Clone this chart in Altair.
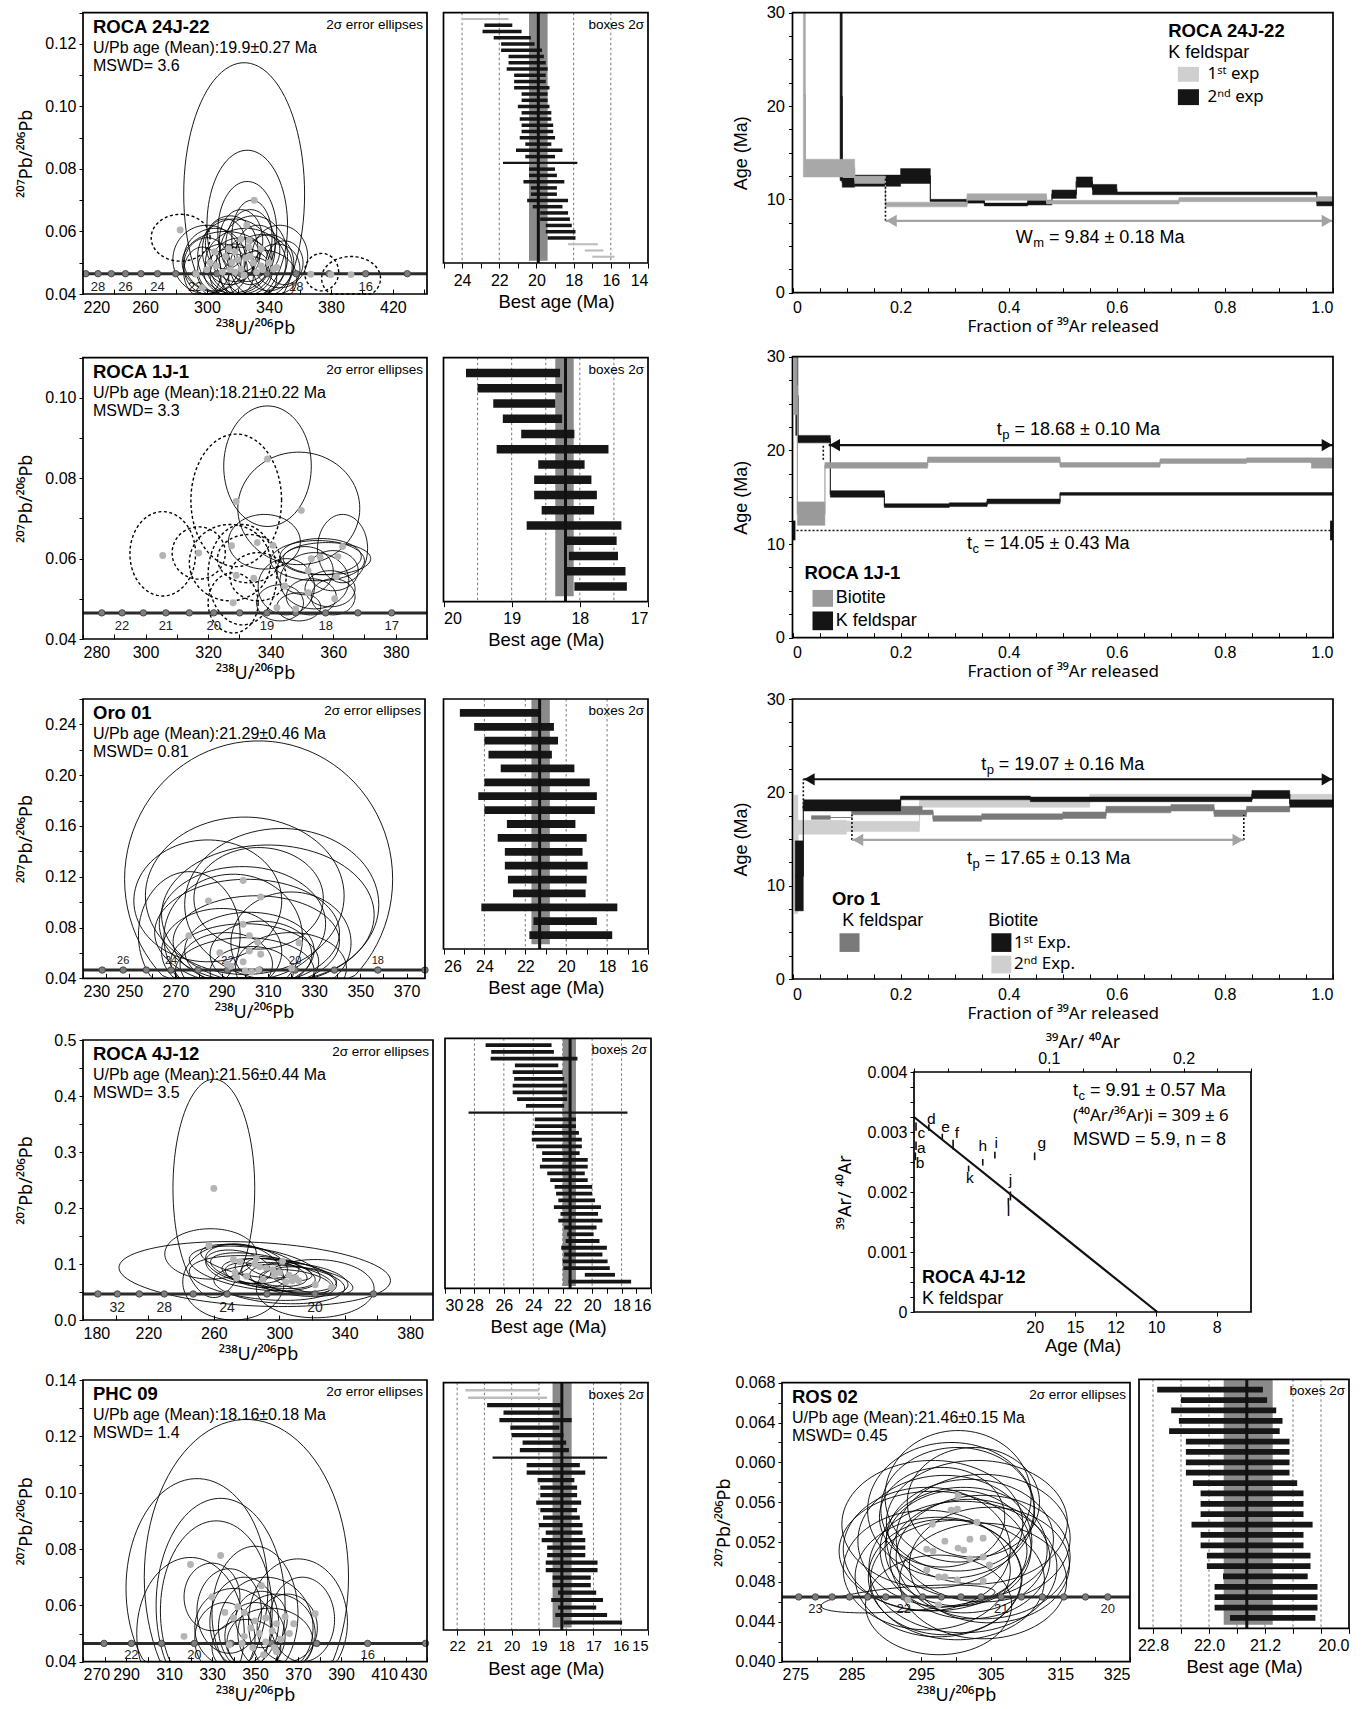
import json
import altair as alt
import pandas as pd

W, H = 1365, 1709
FONT = "Liberation Sans, Arial, Helvetica, sans-serif"
SUPFONT = "Noto Sans, DejaVu Sans, sans-serif"
ANG = list(range(0, 361, 4))

# ============================ DATA ============================
CONC_Y = 0.0465  # 207Pb/206Pb of the concordia at these young ages

# concordia age marks: age (Ma) -> 238U/206Pb
AGES_1MA = [34, 33, 32, 31, 30, 29, 28, 27, 26, 25, 24, 23, 22, 21, 20, 19, 18, 17, 16, 15]
U238_1MA = [189.1, 194.9, 201.0, 207.5, 214.4, 221.8, 229.7, 238.3, 247.4, 257.4, 268.1,
            279.8, 292.5, 306.5, 321.8, 338.8, 357.6, 378.7, 402.4, 429.3]
AGES_HALF = [22.5, 22, 21.5, 21, 20.5, 20, 19.5, 19, 18.5, 18, 17.5, 17]
U238_HALF = [286.0, 292.5, 299.3, 306.5, 314.0, 321.8, 330.1, 338.8, 348.0, 357.6, 367.9, 378.7]
AGES_ROS = [23.2, 23.0, 22.8, 22.6, 22.4, 22.2, 22.0, 21.8, 21.6, 21.4, 21.2, 21.0, 20.8, 20.6, 20.4, 20.2, 20.0]
U238_ROS = [277.4, 279.8, 282.2, 284.7, 287.3, 289.9, 292.5, 295.2, 297.9, 300.7, 303.6, 306.5,
            309.4, 312.4, 315.5, 318.6, 321.8]

# ---------- Panel 1: ROCA 24J-22 ----------
P1_TEXT = ["ROCA 24J-22", "U/Pb age (Mean):19.9±0.27 Ma", "MSWD= 3.6"]
P1_CONC_AGE = [29, 28, 27, 26, 25, 24, 23, 22, 21, 20, 19, 18, 17, 16, 15]
P1_CONC_LAB = [28, 26, 24, 22, 18, 16]
P1_ELL = [(324, 0.072, 39, 0.042), (326, 0.062, 26, 0.024), (326, 0.060, 19, 0.016), (329, 0.058, 13, 0.012),
          (312, 0.050, 28, 0.010), (318, 0.052, 24, 0.012), (322, 0.049, 20, 0.009), (315, 0.054, 18, 0.011),
          (325, 0.050, 26, 0.011), (320, 0.047, 22, 0.008), (330, 0.052, 22, 0.013), (310, 0.048, 16, 0.008),
          (335, 0.049, 20, 0.010), (328, 0.055, 16, 0.012), (316, 0.046, 14, 0.007), (340, 0.050, 16, 0.009),
          (305, 0.051, 20, 0.010), (322, 0.057, 14, 0.010), (327, 0.045, 18, 0.007), (333, 0.054, 14, 0.008),
          (318, 0.050, 12, 0.006), (345, 0.048, 15, 0.008), (300, 0.049, 15, 0.009), (312, 0.056, 13, 0.008),
          (336, 0.045, 22, 0.009), (324, 0.052, 10, 0.006), (297, 0.047, 12, 0.008), (350, 0.050, 12, 0.007),
          (300, 0.051, 22, 0.011), (347, 0.052, 18, 0.010)]
P1_ELL_DASH = [(283, 0.058, 19, 0.0075), (374, 0.047, 11, 0.006), (393, 0.045, 19, 0.007)]
P1_DOTS = [(282.7, 0.0605), (330.5, 0.070), (325.7, 0.062), (327.3, 0.0572), (322, 0.0575), (318, 0.0535),
           (312, 0.052), (316, 0.050), (320, 0.051), (325, 0.0515), (328, 0.052), (330, 0.050), (322, 0.048),
           (318, 0.047), (306, 0.049), (302, 0.050), (310, 0.047), (335, 0.049), (340, 0.050), (343, 0.048),
           (345, 0.0485), (332, 0.047), (314, 0.0545), (327, 0.055), (293, 0.0465), (297, 0.042),
           (367, 0.0463), (380, 0.0462), (393, 0.0462), (315, 0.0478), (335, 0.0545), (305, 0.0535),
           (324, 0.046), (336, 0.0478), (300, 0.0478)]
B1_OLD = [24.0, 22.8, 22.9, 22.3, 21.9, 21.9, 21.5, 21.5, 21.6, 21.2, 21.2, 21.2, 20.8, 20.8, 21.0, 20.8, 20.9,
          20.8, 20.8, 20.9, 20.6, 21.1, 20.6, 21.8, 20.4, 20.4, 20.7, 20.3, 20.3, 20.5, 20.2, 19.8, 19.8, 19.5,
          19.5, 19.4, 18.3, 17.4, 17.0]
B1_YOUNG = [21.5, 21.3, 20.8, 20.3, 20.1, 19.7, 19.6, 19.5, 19.4, 19.5, 19.5, 19.3, 19.4, 19.4, 19.3, 19.2, 19.2,
            19.1, 19.1, 19.0, 19.2, 18.6, 19.0, 17.8, 19.0, 18.9, 18.5, 18.9, 18.9, 18.3, 18.6, 18.3, 18.2, 18.1,
            17.9, 17.9, 16.7, 16.4, 15.8]
B1_KIND = ["r"] + ["a"] * 22 + ["w"] + ["a"] * 12 + ["r", "r", "r"]
B1_BAND, B1_MEAN = (20.4, 19.4), 19.9

# ---------- Panel 2: ROCA 1J-1 ----------
P2_TEXT = ["ROCA 1J-1", "U/Pb age (Mean):18.21±0.22 Ma", "MSWD= 3.3"]
P2_CONC_LAB = [22, 21, 20, 19, 18, 17]
P2_ELL = [(339, 0.083, 14, 0.015), (349, 0.0725, 19.5, 0.014), (338, 0.0642, 11.5, 0.0068), (363, 0.0625, 8, 0.0085),
          (356, 0.0605, 13, 0.0045), (358, 0.0600, 14, 0.0040), (355, 0.0595, 15, 0.0050), (351, 0.0570, 9, 0.0060),
          (360, 0.0570, 8, 0.0050), (354, 0.0545, 11, 0.0070), (345, 0.0530, 9, 0.0070), (359, 0.0525, 8, 0.0045),
          (353, 0.0505, 8, 0.0045), (343, 0.0490, 7.5, 0.0045), (349, 0.0480, 7, 0.0035), (360, 0.0505, 7, 0.0045)]
P2_ELL_DASH = [(305.5, 0.0612, 10.5, 0.0105), (329, 0.0745, 14.5, 0.0165), (317, 0.0614, 8.5, 0.0065),
               (327, 0.0590, 13, 0.0095), (331, 0.0560, 11, 0.0125), (333, 0.0600, 10, 0.0060),
               (336, 0.0555, 9, 0.0060), (328, 0.0490, 8, 0.0075)]
P2_DOTS = [(305.5, 0.0608), (317, 0.0614), (327.5, 0.0632), (335.7, 0.064), (340.8, 0.0633), (329, 0.0742),
           (339, 0.0848), (349.8, 0.072), (363, 0.063), (361.5, 0.0605), (355.8, 0.0604), (353, 0.060),
           (329, 0.0558), (334.6, 0.0551), (352, 0.057), (361, 0.0555), (344.5, 0.0532), (352, 0.0515),
           (360.5, 0.050), (328, 0.049), (342, 0.0478), (348, 0.0475)]
B2_OLD = [19.67, 19.5, 19.27, 19.13, 18.86, 19.22, 18.61, 18.67, 18.67, 18.56, 18.78, 18.19, 18.16, 18.19, 18.08]
B2_YOUNG = [18.29, 18.26, 18.36, 18.26, 18.08, 17.58, 17.93, 17.83, 17.75, 17.79, 17.39, 17.46, 17.44, 17.33, 17.31]
B2_KIND = ["a"] * 15
B2_BAND, B2_MEAN = (18.36, 18.09), 18.21

# ---------- Panel 3: Oro 01 ----------
P3_TEXT = ["Oro 01", "U/Pb age (Mean):21.29±0.46 Ma", "MSWD= 0.81"]
P3_CONC_AGE = [27, 26, 25, 24, 23, 22, 21, 20, 19, 18, 17]
P3_CONC_LAB = [26, 24, 22, 20, 18]
P3_ELL = [(306, 0.118, 58, 0.109), (300, 0.105, 43, 0.062), (316, 0.098, 42, 0.060), (284, 0.101, 32, 0.048),
          (306, 0.103, 28, 0.040), (310, 0.090, 46, 0.055), (276, 0.074, 22, 0.050), (299, 0.083, 36, 0.045),
          (301, 0.076, 40, 0.042), (305, 0.069, 36, 0.036), (320, 0.068, 26, 0.040), (290, 0.061, 26, 0.034),
          (302, 0.062, 28, 0.030), (307, 0.059, 22, 0.026), (300, 0.053, 32, 0.030), (292, 0.051, 20, 0.025),
          (320, 0.048, 24, 0.028), (300, 0.046, 30, 0.026), (303, 0.045, 18, 0.020), (295, 0.072, 30, 0.050)]
P3_DOTS = [(299.3, 0.117), (306.9, 0.104), (284.3, 0.101), (299.3, 0.0826), (275.8, 0.0736), (302, 0.0736),
           (305.6, 0.0683), (323.5, 0.068), (289.2, 0.0602), (302, 0.0615), (306.9, 0.059), (299.3, 0.053),
           (292.4, 0.051), (320.3, 0.048), (300.2, 0.0458), (303, 0.045), (306, 0.0465), (294, 0.0495)]
B3_OLD = [25.2, 24.5, 24.0, 23.8, 23.2, 24.0, 24.3, 24.0, 22.9, 23.35, 23.0, 23.0, 22.85, 22.6, 24.15, 21.6, 21.8]
B3_YOUNG = [21.3, 20.6, 20.4, 20.7, 19.6, 18.85, 18.5, 18.6, 19.55, 19.0, 19.2, 18.95, 19.0, 19.05, 17.5, 18.5, 17.75]
B3_KIND = ["a"] * 17
B3_BAND, B3_MEAN = (21.7, 20.8), 21.3

# ---------- Panel 4: ROCA 4J-12 ----------
P4_TEXT = ["ROCA 4J-12", "U/Pb age (Mean):21.56±0.44 Ma", "MSWD= 3.5"]
P4_CONC_AGE = [34, 32, 30, 28, 26, 24, 22, 20, 18]
P4_CONC_LAB = [32, 28, 24, 20]
P4_ELL = [(260, 0.235, 25, 0.195, 0.0), (285, 0.082, 83, 0.058, -0.2), (258, 0.118, 28, 0.045, 0.0),
          (272, 0.068, 31, 0.068, 0.0), (322, 0.056, 36, 0.052, 0.0), (285, 0.092, 40, 0.040, -0.4),
          (290, 0.088, 32, 0.032, -0.5), (300, 0.080, 35, 0.030, -0.4), (280, 0.100, 25, 0.035, -0.3),
          (305, 0.075, 28, 0.028, -0.5), (295, 0.085, 22, 0.025, -0.4), (312, 0.072, 30, 0.030, -0.3),
          (275, 0.095, 20, 0.030, -0.3), (290, 0.075, 45, 0.040, -0.3), (300, 0.090, 20, 0.020, -0.5),
          (310, 0.068, 22, 0.022, -0.4), (285, 0.080, 18, 0.022, -0.4), (320, 0.070, 25, 0.025, -0.5),
          (300, 0.064, 40, 0.035, -0.2), (282, 0.105, 30, 0.030, -0.5)]
P4_DOTS = [(260, 0.235), (257, 0.133), (272, 0.108), (276, 0.104), (285, 0.10), (288, 0.095), (292, 0.093),
           (302, 0.105), (300, 0.085), (306, 0.08), (310, 0.075), (312, 0.07), (273, 0.085), (274, 0.075),
           (280, 0.078), (290, 0.072), (297, 0.08), (304, 0.068), (308, 0.07), (322, 0.063), (332, 0.058),
           (296, 0.09), (286, 0.11)]
B4_OLD = [27.24, 26.86, 26.9, 25.25, 25.4, 25.3, 25.4, 25.4, 25.1, 24.5, 28.4, 23.9, 23.9, 24.1, 24.1, 23.8, 23.4,
          23.4, 23.55, 23.05, 22.85, 22.55, 22.45, 22.3, 22.6, 22.15, 22.3, 21.9, 21.7, 21.8, 22.1, 21.9, 22.0,
          21.95, 20.5, 21.6]
B4_YOUNG = [22.76, 22.6, 21.0, 22.3, 22.0, 21.9, 21.7, 21.7, 21.7, 21.9, 17.6, 21.1, 21.1, 20.9, 20.7, 20.7, 20.85,
            20.3, 20.3, 20.5, 20.3, 20.0, 20.0, 19.8, 19.4, 19.6, 19.3, 19.7, 19.9, 19.5, 19.0, 19.3, 18.95, 18.8,
            18.45, 17.35]
B4_KIND = ["a"] * 10 + ["w"] + ["a"] * 25
B4_BAND, B4_MEAN = (22.0, 21.1), 21.5

# ---------- Panel 5: PHC 09 ----------
P5_TEXT = ["PHC 09", "U/Pb age (Mean):18.16±0.18 Ma", "MSWD= 1.4"]
P5_CONC_AGE = [23, 22, 21, 20, 19, 18, 17, 16, 15]
P5_CONC_LAB = [22, 20, 16]
P5_ELL = [(346, 0.070, 47.5, 0.056), (323, 0.066, 33, 0.039), (334, 0.060, 30, 0.038), (332, 0.058, 26, 0.032),
          (320, 0.050, 25, 0.027), (370, 0.054, 23, 0.0225), (350, 0.057, 20, 0.024), (355, 0.052, 22, 0.018),
          (345, 0.054, 16, 0.016), (340, 0.052, 18, 0.014), (360, 0.050, 18, 0.014), (350, 0.049, 14, 0.012),
          (357, 0.047, 20, 0.012), (346, 0.045, 16, 0.010), (336, 0.048, 14, 0.013), (353, 0.055, 12, 0.010),
          (365, 0.052, 14, 0.012), (338, 0.058, 15, 0.015), (372, 0.055, 15, 0.015), (330, 0.063, 13, 0.012)]
P5_DOTS = [(320, 0.0745), (334, 0.0777), (353, 0.067), (330, 0.063), (378, 0.057), (317, 0.049), (342, 0.0595),
           (345, 0.0575), (340, 0.0555), (350, 0.0545), (355, 0.0555), (360, 0.0535), (348, 0.052), (352, 0.05),
           (358, 0.051), (345, 0.049), (362, 0.048), (366, 0.05), (355, 0.047), (349, 0.045), (359, 0.045),
           (338, 0.046), (344, 0.0465), (354, 0.0425), (360, 0.0435), (368, 0.0535), (364, 0.056), (336, 0.0575)]
B5_OLD = [21.7, 21.6, 20.9, 20.3, 20.45, 20.05, 20.0, 19.6, 19.7, 20.7, 19.45, 19.45, 19.05, 18.95, 18.95, 19.1,
          18.95, 18.85, 19.0, 18.75, 18.9, 18.7, 18.7, 18.75, 18.75, 18.5, 18.5, 18.3, 18.55, 18.3, 18.4, 18.1]
B5_YOUNG = [19.0, 18.7, 18.2, 18.25, 17.8, 18.25, 18.1, 18.0, 17.9, 16.5, 17.5, 17.3, 17.7, 17.6, 17.6, 17.45,
            17.6, 17.5, 17.4, 17.4, 17.3, 17.3, 17.3, 16.85, 16.85, 17.1, 17.1, 16.9, 16.65, 16.9, 16.5, 15.95]
B5_KIND = ["r", "r"] + ["a"] * 7 + ["w"] + ["a"] * 22
B5_BAND, B5_MEAN = (18.5, 17.8), 18.16

# ---------- Panel 6: ROS 02 ----------
P6_TEXT = ["ROS 02", "U/Pb age (Mean):21.46±0.15 Ma", "MSWD= 0.45"]
P6_CONC_LAB = [23.0, 22.0, 21.0, 20.0]
P6_ELL = [(300.3, 0.0566, 10.5, 0.0066), (299.3, 0.0552, 12, 0.0068), (300.2, 0.0553, 11, 0.0062),
          (296.6, 0.0538, 13, 0.0064), (303.0, 0.0540, 13, 0.0062), (298.4, 0.0521, 12.5, 0.0066),
          (302.0, 0.0523, 12, 0.0060), (303.9, 0.0524, 12.5, 0.0064), (295.8, 0.0513, 12, 0.0062),
          (296.7, 0.0511, 13.5, 0.0060), (300.3, 0.0514, 10.5, 0.0058), (301.1, 0.0512, 12, 0.0063),
          (302.0, 0.0503, 11.5, 0.0060), (303.9, 0.0505, 12.5, 0.0062), (304.8, 0.0497, 11.5, 0.0058),
          (295.8, 0.0492, 12, 0.0060), (297.5, 0.0485, 12, 0.0060), (298.4, 0.0485, 11, 0.0058),
          (300.2, 0.0482, 12.5, 0.0060), (303.9, 0.0481, 12, 0.0058), (293.1, 0.0463, 12.5, 0.0014, 0.5),
          (297.5, 0.0457, 10.5, 0.0050), (301.0, 0.0495, 13.5, 0.0066), (298.0, 0.0545, 9, 0.0050),
          (302.5, 0.0560, 9.5, 0.0055)]
P6_DOTS = [(300.3, 0.0566), (299.3, 0.0552), (300.2, 0.0553), (296.6, 0.0538), (303.0, 0.054), (298.4, 0.0521),
           (302.0, 0.0523), (303.9, 0.0524), (295.8, 0.0513), (296.7, 0.0511), (300.3, 0.0514), (301.1, 0.0512),
           (302.0, 0.0503), (303.9, 0.0505), (304.8, 0.0497), (295.8, 0.0492), (297.5, 0.0485), (298.4, 0.0485),
           (300.2, 0.0482), (303.9, 0.0481), (293.1, 0.0462), (297.5, 0.0457)]
B6_OLD = [22.74, 22.4, 22.54, 22.43, 22.57, 22.33, 22.33, 22.33, 22.33, 22.23, 22.12, 22.12, 22.12, 22.25, 22.12,
          22.12, 22.03, 22.03, 21.8, 21.92, 21.92, 21.92, 21.7]
B6_YOUNG = [21.23, 21.17, 21.04, 20.95, 20.99, 20.85, 20.85, 20.85, 20.85, 20.74, 20.65, 20.65, 20.65, 20.52, 20.65,
            20.65, 20.55, 20.55, 20.59, 20.45, 20.45, 20.45, 20.48]
B6_KIND = ["a"] * 23
B6_BAND, B6_MEAN = (21.79, 21.09), 21.46

# ---------- Step-heating spectra (fraction start, fraction end, age low, age high) ----------
S1_E1 = dict(f0=[0.020, 0.024, 0.115, 0.172, 0.323, 0.470, 0.715, 0.970],
             f1=[0.024, 0.115, 0.172, 0.323, 0.470, 0.715, 0.970, 1.000],
             lo=[12.4, 12.4, 11.7, 9.2, 9.9, 9.5, 9.75, 9.8],
             hi=[40.0, 14.3, 12.5, 9.7, 10.6, 9.9, 10.2, 10.3])
S1_E2 = dict(f0=[0.088, 0.092, 0.115, 0.200, 0.255, 0.320, 0.355, 0.435, 0.480, 0.525, 0.555, 0.600, 0.970],
             f1=[0.092, 0.115, 0.200, 0.255, 0.320, 0.355, 0.435, 0.480, 0.525, 0.555, 0.600, 0.970, 1.000],
             lo=[12.0, 11.3, 11.4, 11.7, 9.75, 9.6, 9.3, 9.4, 10.1, 11.3, 10.5, 10.5, 9.3],
             hi=[40.0, 12.3, 12.6, 13.3, 10.0, 10.0, 9.6, 9.9, 11.0, 12.4, 11.6, 10.8, 10.0])
S1_ARROWS = [(0.172, 1.0, 7.7, "#a3a3a3")]
S1_RULES = [(0.172, 0.172, 7.7, 12.4, "#111111", 1.6, True)]
S1_LABELS = [(0.413, 5.9, "W", "m", "= 9.84 ± 0.18 Ma")]
S1_LEG_RECTS = [(0.713, 0.752, 22.6, 24.2, "#cfcfcf"), (0.713, 0.752, 20.1, 21.8, "#151515")]
S1_LEG_TEXT = [(0.695, 28.0, "ROCA 24J-22", "bold"), (0.695, 25.7, "K feldspar", "normal"),
               (0.768, 23.4, "1ˢᵗ exp", "normal"), (0.768, 21.0, "2ⁿᵈ exp", "normal")]

S2_BI = dict(f0=[0.003, 0.009, 0.060, 0.250, 0.495, 0.680, 0.840, 0.960],
             f1=[0.009, 0.060, 0.250, 0.495, 0.680, 0.840, 0.960, 1.000],
             lo=[23.8, 12.0, 18.1, 18.7, 18.2, 18.6, 18.7, 18.1],
             hi=[40.0, 14.5, 18.7, 19.3, 18.7, 19.1, 19.2, 19.2])
S2_KF = dict(f0=[0.006, 0.010, 0.070, 0.170, 0.290, 0.360, 0.495],
             f1=[0.010, 0.070, 0.170, 0.290, 0.360, 0.495, 1.000],
             lo=[21.6, 20.8, 15.0, 13.9, 14.0, 14.3, 15.2],
             hi=[40.0, 21.6, 15.7, 14.3, 14.4, 14.8, 15.5])
S2_ARROWS = [(0.067, 1.0, 20.57, "#111111")]
S2_RULES = [(0.057, 0.057, 19.0, 20.6, "#111111", 1.6, True), (0.0, 1.0, 11.45, 11.45, "#111111", 1.6, True),
            (0.003, 0.003, 10.4, 12.5, "#111111", 2.6, False), (0.997, 0.997, 10.4, 12.5, "#111111", 2.6, False)]
S2_LABELS = [(0.378, 22.2, "t", "p", "= 18.68 ± 0.10 Ma"), (0.323, 10.0, "t", "c", "= 14.05 ± 0.43 Ma")]
S2_LEG_RECTS = [(0.037, 0.075, 3.3, 5.1, "#9a9a9a"), (0.037, 0.075, 0.8, 2.8, "#151515")]
S2_LEG_TEXT = [(0.022, 6.9, "ROCA 1J-1", "bold"), (0.080, 4.2, "Biotite", "normal"),
               (0.080, 1.8, "K feldspar", "normal")]

S3_B2 = dict(f0=[0.003, 0.010, 0.100, 0.235, 0.550], f1=[0.010, 0.100, 0.235, 0.550, 1.000],
             lo=[7.0, 15.5, 15.8, 18.4, 19.3], hi=[19.7, 17.0, 16.9, 19.4, 19.8])
S3_KF = dict(f0=[0.035, 0.110, 0.240, 0.260, 0.350, 0.500, 0.580, 0.700, 0.780, 0.840],
             f1=[0.070, 0.240, 0.260, 0.350, 0.500, 0.580, 0.700, 0.780, 0.840, 0.920],
             lo=[17.1, 17.6, 17.6, 16.9, 17.1, 17.2, 17.8, 18.0, 17.4, 17.9],
             hi=[17.5, 18.5, 18.1, 17.5, 17.7, 17.9, 18.5, 18.7, 18.1, 18.5])
S3_B1 = dict(f0=[0.005, 0.020, 0.200, 0.440, 0.850, 0.920], f1=[0.020, 0.200, 0.440, 0.850, 0.920, 1.000],
             lo=[7.3, 18.0, 19.2, 19.0, 19.35, 18.4], hi=[14.8, 19.2, 19.6, 19.5, 20.2, 19.2])
S3_ARROWS = [(0.02, 1.0, 21.4, "#111111"), (0.11, 0.835, 14.9, "#a3a3a3")]
S3_RULES = [(0.02, 0.02, 18.3, 21.4, "#111111", 1.6, True), (0.11, 0.11, 14.9, 17.6, "#111111", 1.6, True),
            (0.835, 0.835, 14.9, 17.6, "#111111", 1.6, True)]
S3_LABELS = [(0.349, 22.9, "t", "p", "= 19.07 ± 0.16 Ma"), (0.323, 12.9, "t", "p", "= 17.65 ± 0.13 Ma")]
S3_LEG_RECTS = [(0.087, 0.124, 2.9, 4.9, "#7a7a7a"), (0.368, 0.405, 2.9, 4.9, "#151515"),
                (0.368, 0.405, 0.6, 2.5, "#cfcfcf")]
S3_LEG_TEXT = [(0.073, 8.6, "Oro 1", "bold"), (0.092, 6.2, "K feldspar", "normal"), (0.362, 6.2, "Biotite", "normal"),
               (0.410, 3.9, "1ˢᵗ Exp.", "normal"), (0.410, 1.6, "2ⁿᵈ Exp.", "normal")]

# ---------- Inverse isochron ROCA 4J-12 ----------
ISO_LINE_X = [0.0, 0.1805]
ISO_LINE_Y = [0.00325, 0.0]
ISO_STEP = ["a", "b", "c", "d", "e", "f", "g", "h", "i", "j", "k", "l"]
ISO_X = [0.0015, 0.0010, 0.0015, 0.0110, 0.0210, 0.0290, 0.0895, 0.0510, 0.0600, 0.0715, 0.0405, 0.0700]
ISO_Y0 = [0.00270, 0.00253, 0.00302, 0.00302, 0.00288, 0.00271, 0.00253, 0.00244, 0.00256, 0.00186, 0.00234, 0.00178]
ISO_Y1 = [0.00284, 0.00266, 0.00316, 0.00313, 0.00297, 0.00287, 0.00266, 0.00255, 0.00267, 0.00201, 0.00244, 0.00190]
ISO_LX = [0.0054, 0.0045, 0.0054, 0.0129, 0.0234, 0.0318, 0.0949, 0.0510, 0.0610, 0.0715, 0.0414, 0.0700]
ISO_LY = [0.00274, 0.00249, 0.00298, 0.00321, 0.00309, 0.00299, 0.00281, 0.00276, 0.00281, 0.00220, 0.00223, 0.00168]
ISO_AGE_POS = [0.0895, 0.1195, 0.1495, 0.1796, 0.2246]
ISO_AGE_LAB = ["20", "15", "12", "10", "8"]
ISO_LABELS = [(0.118, 0.00368, "t", "c", "= 9.91 ± 0.57 Ma")]
ISO_TEXT = [(0.118, 0.00327, "(⁴⁰Ar/³⁶Ar)i = 309 ± 6", "normal"), (0.118, 0.00287, "MSWD = 5.9, n = 8", "normal"),
            (0.006, 0.00056, "ROCA 4J-12", "bold"), (0.006, 0.00022, "K feldspar", "normal")]

# ============================ LAYOUT (px) ============================
TW1 = (83, 12.7, 427, 294);    BX1 = (443.5, 12.7, 648, 263);    SP1 = (792.5, 12.7, 1333, 292.7)
TW2 = (83, 357.7, 427, 639);   BX2 = (443.5, 357.7, 648, 601.7); SP2 = (792.5, 356.7, 1333, 637.7)
TW3 = (83, 699, 425, 978.3);   BX3 = (443.5, 699, 648, 949);     SP3 = (792.5, 699, 1333, 979)
TW4 = (83, 1040, 433, 1320);   BX4 = (445, 1038.3, 651, 1288.3); ISO = (914, 1072, 1251, 1312)
TW5 = (83, 1380, 427, 1661.7); BX5 = (443.5, 1382.7, 648, 1630)
TW6 = (782, 1382.7, 1130, 1661.7); BX6 = (1139, 1379.3, 1349, 1628.3)

# ============================ HELPERS ============================
DEF = object()
SUPCHARS = set("⁰¹²³⁴⁵⁶⁷⁸⁹ˢᵗⁿᵈ")
WID = {"t": 0.278, "W": 0.944, "c": 0.5, "p": 0.556, "m": 0.833}


def one():
    return pd.DataFrame({"k": [0]})


def fnt(s):
    return SUPFONT if any(ch in SUPCHARS for ch in s) else FONT


def sc(dom, a, b):
    return alt.Scale(domain=list(dom), range=[a, b], clamp=True, nice=False, zero=False)


def lexpr(show, zero_label=None):
    e = "indexof(%s, datum.value) >= 0 ? datum.label : ''" % json.dumps(show)
    if zero_label is not None:
        e = "datum.value == 0 ? '%s' : (%s)" % (zero_label, e)
    return e


def every_other(vals):
    return [v for i, v in enumerate(vals) if i % 2 == 0]


def frange(a, step, n, nd=5):
    return [round(a + i * step, nd) for i in range(n)]


def encs(xs, ys, xdef=None, ydef=None):
    def X(f, ax=DEF):
        return alt.X(f, type="quantitative", scale=xs, axis=(xdef if ax is DEF else ax))

    def Y(f, ax=DEF):
        return alt.Y(f, type="quantitative", scale=ys, axis=(ydef if ax is DEF else ax))
    return X, Y


def frame(box, sw=1.7):
    return alt.Chart(one()).mark_rect(fillOpacity=0, stroke="black", strokeWidth=sw).encode(
        x=alt.value(box[0]), x2=alt.value(box[2]), y=alt.value(box[1]), y2=alt.value(box[3]))


def ptext(x, y, s, size, weight="normal", align="left"):
    return alt.Chart(one()).mark_text(text=s, fontSize=size, fontWeight=weight, align=align, font=fnt(s),
                                      baseline="middle", color="black").encode(x=alt.value(x), y=alt.value(y))


def dtext(X, Y, x, y, s, size, weight="normal"):
    tdf = pd.DataFrame({"x": [x], "y": [y]})
    sz = size * 0.94 if fnt(s) == SUPFONT else size
    return alt.Chart(tdf).mark_text(text=s, fontSize=sz, fontWeight=weight, align="left", baseline="middle",
                                    font=fnt(s), color="black").encode(x=X("x"), y=Y("y"))


def sub_label(X, Y, x, y, main, sub, rest, size=18, subsize=13):
    tdf = pd.DataFrame({"x": [x], "y": [y]})
    base = alt.Chart(tdf).encode(x=X("x"), y=Y("y"))
    w1 = WID[main] * size
    w2 = WID[sub] * subsize
    return [base.mark_text(text=main, fontSize=size, align="left", baseline="middle"),
            base.mark_text(text=sub, fontSize=subsize, align="left", baseline="middle", dx=w1 + 0.5, dy=5),
            base.mark_text(text=rest, fontSize=size, align="left", baseline="middle", dx=w1 + w2 + 0.3 * size)]


def ell_chart(rows, X, Y, dashed, xa=DEF):
    recs = [{"cx": r[0], "cy": r[1], "rx": r[2], "ry": r[3], "rho": (r[4] if len(r) > 4 else 0.0),
             "eid": i, "t": ANG} for i, r in enumerate(rows)]
    kw = dict(stroke="black", strokeWidth=0.9)
    if dashed:
        kw = dict(stroke="black", strokeWidth=1.4, strokeDash=[3, 2.5])
    return (alt.Chart(alt.Data(values=recs)).transform_flatten(["t"]).transform_calculate(
        px="datum.cx + datum.rx*cos(datum.t*PI/180)",
        py="datum.cy + datum.ry*(datum.rho*cos(datum.t*PI/180) + sqrt(1-datum.rho*datum.rho)*sin(datum.t*PI/180))")
        .mark_line(**kw)
        .encode(x=X("px", xa), y=Y("py"), detail="eid:N", order="t:Q"))


def tw_panel(box, xdom, ydom, xt, yt, yfmt, ell, dash, dots, conc_ages, conc_x, lab_ages, lab_dy, lab_size,
             texts, ytp):
    l, t, r, b = box
    ax_x = alt.Axis(orient="bottom", offset=b - H, values=xt, labelExpr=lexpr(every_other(xt)), format="d",
                    title="²³⁸U/²⁰⁶Pb", titleFont=SUPFONT, ticks=False, labelPadding=5, titlePadding=0,
                    minExtent=25, maxExtent=25, titleFontSize=18, labelOverlap=False, labelFontSize=16)
    ax_xt = alt.Axis(orient="top", offset=-b, values=xt, labels=False, title=None, ticks=True, tickSize=5)
    ax_y = alt.Axis(orient="left", offset=-l, values=yt, labelExpr=lexpr(every_other(yt)), format=yfmt,
                    title="²⁰⁷Pb/²⁰⁶Pb", titleFont=SUPFONT, tickSize=4, labelPadding=3, titlePadding=ytp,
                    minExtent=36, maxExtent=36, titleFontSize=18, labelOverlap=False, labelFontSize=16)
    X, Y = encs(sc(xdom, l, r), sc(ydom, b, t), None, ax_y)
    layers = []
    lab_x = [conc_x[conc_ages.index(a)] for a in lab_ages]
    ldf = pd.DataFrame({"x": lab_x, "y": [CONC_Y] * len(lab_x), "s": ["%g" % a for a in lab_ages]})
    layers.append(alt.Chart(ldf).mark_text(fontSize=lab_size, dy=lab_dy, color="#222222").encode(
        x=X("x"), y=Y("y"), text="s:N"))
    layers.append(ell_chart(ell, X, Y, False, ax_x))
    if dash:
        layers.append(ell_chart(dash, X, Y, True))
    rdf = pd.DataFrame({"x0": [xdom[0]], "x1": [xdom[1]], "y": [CONC_Y]})
    layers.append(alt.Chart(rdf).mark_rule(color="#2b2b2b", strokeWidth=3).encode(
        x=X("x0", ax_xt), x2=alt.X2("x1"), y=Y("y")))
    cdf = pd.DataFrame({"x": conc_x, "y": [CONC_Y] * len(conc_x)})
    layers.append(alt.Chart(cdf).mark_circle(size=42, color="#7d7d7d", stroke="#3a3a3a", strokeWidth=0.8,
                                             opacity=1).encode(x=X("x"), y=Y("y")))
    ddf = pd.DataFrame({"x": [d[0] for d in dots], "y": [d[1] for d in dots]})
    layers.append(alt.Chart(ddf).mark_circle(size=48, color="#b4b4b4", opacity=1).encode(x=X("x"), y=Y("y")))
    layers.append(frame(box))
    layers += [ptext(l + 10, t + 14, texts[0], 18.5, "bold"), ptext(l + 10, t + 35, texts[1], 16),
               ptext(l + 10, t + 53, texts[2], 16), ptext(r - 4, t + 12, "2σ error ellipses", 13.5, align="right")]
    return alt.layer(*layers).resolve_axis(x="independent")


def box_panel(box, xdom, xt, xl, fmt, old, young, kind, band, mean, grid, title_x=None, label_size=16):
    l, t, r, b = box
    n = len(old)
    akw = dict(orient="bottom", offset=b - H, values=xt, labelExpr=lexpr(xl), format=fmt,
               title="Best age (Ma)", tickSize=5, labelPadding=4, titlePadding=0, minExtent=29,
               maxExtent=29, titleFontSize=18.5, labelOverlap=False, labelFontSize=label_size)
    if title_x is not None:
        akw["titleX"] = title_x
    ax_x = alt.Axis(**akw)
    X, Y = encs(sc(xdom, l, r), sc([-1, n], t, b), ax_x, None)
    step = (b - t) / (n + 1.0)
    bw = max(3.2, 0.56 * step)
    layers = []
    gdf = pd.DataFrame({"a": grid, "y0": [-1] * len(grid), "y1": [n] * len(grid)})
    layers.append(alt.Chart(gdf).mark_rule(color="#555555", strokeWidth=0.8, strokeDash=[2.5, 2.5]).encode(
        x=X("a"), y=Y("y0"), y2=alt.Y2("y1")))
    bdf = pd.DataFrame({"lo": [band[0]], "hi": [band[1]], "y0": [-0.95], "y1": [n - 0.35]})
    layers.append(alt.Chart(bdf).mark_rect(color="#8a8a8a").encode(
        x=X("lo"), x2=alt.X2("hi"), y=Y("y0"), y2=alt.Y2("y1")))
    df = pd.DataFrame({"i": list(range(n)), "old": old, "young": young, "kind": kind})
    for k, col, w in [("r", "#bdbdbd", bw * 0.6), ("a", "#161616", bw), ("w", "#161616", 2.2)]:
        sub = df[df["kind"] == k].reset_index(drop=True)
        if len(sub):
            layers.append(alt.Chart(sub).mark_rule(color=col, strokeWidth=w, strokeCap="butt").encode(
                x=X("old"), x2=alt.X2("young"), y=Y("i")))
    mdf = pd.DataFrame({"m": [mean], "y0": [-1], "y1": [n]})
    layers.append(alt.Chart(mdf).mark_rule(color="#111111", strokeWidth=3).encode(
        x=X("m"), y=Y("y0"), y2=alt.Y2("y1")))
    layers.append(frame(box))
    layers.append(ptext(r - 4, t + 12, "boxes 2σ", 13.5, align="right"))
    return alt.layer(*layers)


SPEC_XT = frange(0, 0.05, 21, 2)
SPEC_XL = [0.2, 0.4, 0.6, 0.8, 1.0]
SPEC_YT = frange(0, 2.5, 13, 2)
SPEC_YL = [0, 10, 20, 30]


def spec_panel(box, series, arrows, rules, labels, leg_rects, leg_text, size=18):
    l, t, r, b = box
    ax_x = alt.Axis(orient="bottom", offset=b - H, values=SPEC_XT, labelExpr=lexpr(SPEC_XL, "0"), format=".1f",
                    title="Fraction of ³⁹Ar released", titleFont=SUPFONT, ticks=False, labelPadding=7,
                    titlePadding=0, minExtent=26, maxExtent=26, titleFontSize=17, labelOverlap=False,
                    labelFontSize=16)
    ax_xt = alt.Axis(orient="top", offset=-b, values=SPEC_XT, labels=False, title=None, ticks=True, tickSize=5)
    ax_y = alt.Axis(orient="left", offset=-l, values=SPEC_YT, labelExpr=lexpr(SPEC_YL), format="d",
                    title="Age (Ma)", tickSize=4, labelPadding=4, titlePadding=16, minExtent=26, maxExtent=26,
                    titleFontSize=18, labelOverlap=False, labelFontSize=16.5)
    X, Y = encs(sc([0, 1], l, r), sc([0, 30], b, t), None, ax_y)
    layers = []
    for si, (s, col) in enumerate(series):
        df = pd.DataFrame(s)
        layers.append(alt.Chart(df).mark_rect(color=col, stroke=col, strokeWidth=0.5).encode(
            x=X("f0", ax_x if si == 0 else None), x2=alt.X2("f1"), y=Y("lo"), y2=alt.Y2("hi")))
        mids = [(a + min(c, 30.0)) / 2 for a, c in zip(s["lo"], s["hi"])]
        sdf = pd.DataFrame({"x": list(s["f0"]) + [s["f1"][-1]], "y": mids + [mids[-1]]})
        layers.append(alt.Chart(sdf).mark_line(interpolate="step-after", color=col, strokeWidth=1.1).encode(
            x=X("x", ax_xt if si == 0 else None), y=Y("y")))
    for (x0, x1, y0, y1, col, w, dotted) in rules:
        rdf = pd.DataFrame({"x0": [x0], "x1": [x1], "y0": [y0], "y1": [y1]})
        kw = dict(color=col, strokeWidth=w)
        if dotted:
            kw["strokeDash"] = [2, 2]
        layers.append(alt.Chart(rdf).mark_rule(**kw).encode(
            x=X("x0"), x2=alt.X2("x1"), y=Y("y0"), y2=alt.Y2("y1")))
    for (x0, x1, y, col) in arrows:
        adf = pd.DataFrame({"x0": [x0], "x1": [x1], "y": [y]})
        layers.append(alt.Chart(adf).mark_rule(color=col, strokeWidth=2.2).encode(
            x=X("x0"), x2=alt.X2("x1"), y=Y("y")))
        layers.append(alt.Chart(adf).mark_point(shape="triangle-left", filled=True, size=150, color=col,
                                                opacity=1, xOffset=6).encode(x=X("x0"), y=Y("y")))
        layers.append(alt.Chart(adf).mark_point(shape="triangle-right", filled=True, size=150, color=col,
                                                opacity=1, xOffset=-6).encode(x=X("x1"), y=Y("y")))
    for (x, y, main, sub, rest) in labels:
        layers += sub_label(X, Y, x, y, main, sub, rest, size)
    for (x0, x1, y0, y1, col) in leg_rects:
        gdf = pd.DataFrame({"x0": [x0], "x1": [x1], "y0": [y0], "y1": [y1]})
        layers.append(alt.Chart(gdf).mark_rect(color=col).encode(
            x=X("x0"), x2=alt.X2("x1"), y=Y("y0"), y2=alt.Y2("y1")))
    for (x, y, s, wgt) in leg_text:
        layers.append(dtext(X, Y, x, y, s, size + (0.5 if wgt == "bold" else 0), wgt))
    layers.append(frame(box))
    return alt.layer(*layers).resolve_axis(x="independent")


def iso_panel(box):
    l, t, r, b = box
    yt = frange(0, 0.00025, 17, 5)
    e = "''"
    for v, s in reversed(list(zip(ISO_AGE_POS, ISO_AGE_LAB))):
        e = "datum.value == %r ? '%s' : (%s)" % (v, s, e)
    ax_y = alt.Axis(orient="left", offset=-l, values=yt, labelExpr=lexpr([0.001, 0.002, 0.003, 0.004], "0"),
                    format=".3f", title="³⁹Ar/ ⁴⁰Ar", titleFont=SUPFONT, tickSize=4, labelPadding=3,
                    titlePadding=16, minExtent=44, maxExtent=44, titleFontSize=18, labelOverlap=False,
                    labelFontSize=16)
    ax_b = alt.Axis(orient="bottom", offset=b - H, values=ISO_AGE_POS, labelExpr=e, title="Age (Ma)",
                    tickSize=4, labelPadding=3, titlePadding=0, minExtent=24, maxExtent=24, titleFontSize=18.5,
                    labelOverlap=False, labelFontSize=16)
    xt = frange(0, 0.025, 11, 3)
    ax_t = alt.Axis(orient="top", offset=-t, values=xt, labelExpr=lexpr([0.1, 0.2]), format=".1f",
                    title="³⁹Ar/ ⁴⁰Ar", titleFont=SUPFONT, tickSize=4, labelPadding=2, titlePadding=3,
                    minExtent=18, maxExtent=18, titleFontSize=18, labelOverlap=False, labelFontSize=16)
    X, Y = encs(sc([0, 0.25], l, r), sc([0, 0.004], b, t), None, ax_y)
    layers = []
    ldf = pd.DataFrame({"x": ISO_LINE_X, "y": ISO_LINE_Y})
    layers.append(alt.Chart(ldf).mark_line(color="#111111", strokeWidth=2.2).encode(x=X("x", ax_b), y=Y("y")))
    sdf = pd.DataFrame({"s": ISO_STEP, "x": ISO_X, "y0": ISO_Y0, "y1": ISO_Y1, "lx": ISO_LX, "ly": ISO_LY})
    layers.append(alt.Chart(sdf).mark_rule(color="#111111", strokeWidth=1.6).encode(
        x=X("x", ax_t), y=Y("y0"), y2=alt.Y2("y1")))
    layers.append(alt.Chart(sdf).mark_text(fontSize=15.5, align="center", baseline="middle").encode(
        x=X("lx"), y=Y("ly"), text="s:N"))
    for (x, y, main, sub, rest) in ISO_LABELS:
        layers += sub_label(X, Y, x, y, main, sub, rest, 18)
    for (x, y, s, wgt) in ISO_TEXT:
        layers.append(dtext(X, Y, x, y, s, 18, wgt))
    layers.append(frame(box))
    return alt.layer(*layers).resolve_axis(x="independent")


def cx_of(ages, table_ages, table_x):
    return [table_x[table_ages.index(a)] for a in ages]


# ============================ PANELS ============================
panels = []
# row 1
panels.append(tw_panel(TW1, (220, 442), (0.04, 0.13), frange(220, 20, 12, 1), frange(0.04, 0.01, 10, 3), ".2f",
                       P1_ELL, P1_ELL_DASH, P1_DOTS, P1_CONC_AGE, cx_of(P1_CONC_AGE, AGES_1MA, U238_1MA),
                       P1_CONC_LAB, 13, 13, P1_TEXT, 12))
panels.append(box_panel(BX1, (25, 14), list(range(25, 13, -1)), [24, 22, 20, 18, 16, 14], "d",
                        B1_OLD, B1_YOUNG, B1_KIND, B1_BAND, B1_MEAN, [24, 22, 20, 18, 16], title_x=556))
panels.append(spec_panel(SP1, [(S1_E2, "#151515"), (S1_E1, "#a8a8a8")], S1_ARROWS, S1_RULES, S1_LABELS,
                         S1_LEG_RECTS, S1_LEG_TEXT))
# row 2
panels.append(tw_panel(TW2, (280, 390), (0.04, 0.11), frange(280, 10, 12, 1), frange(0.04, 0.01, 8, 3), ".2f",
                       P2_ELL, P2_ELL_DASH, P2_DOTS, AGES_HALF, U238_HALF, P2_CONC_LAB, 13, 13, P2_TEXT, 12))
panels.append(box_panel(BX2, (20, 17), frange(20, -0.5, 7, 1), [20, 19, 18, 17], "d",
                        B2_OLD, B2_YOUNG, B2_KIND, B2_BAND, B2_MEAN, [19.5, 19, 18.5, 18, 17.5]))
panels.append(spec_panel(SP2, [(S2_KF, "#151515"), (S2_BI, "#9a9a9a")], S2_ARROWS, S2_RULES, S2_LABELS,
                         S2_LEG_RECTS, S2_LEG_TEXT))
# row 3
panels.append(tw_panel(TW3, (230, 378), (0.04, 0.26), frange(230, 10, 15, 1), frange(0.04, 0.02, 12, 3), ".2f",
                       P3_ELL, [], P3_DOTS, P3_CONC_AGE, cx_of(P3_CONC_AGE, AGES_1MA, U238_1MA),
                       P3_CONC_LAB, -9, 11, P3_TEXT, 12))
panels.append(box_panel(BX3, (26, 16), list(range(26, 15, -1)), [26, 24, 22, 20, 18, 16], "d",
                        B3_OLD, B3_YOUNG, B3_KIND, B3_BAND, B3_MEAN, [24, 22, 20, 18]))
panels.append(spec_panel(SP3, [(S3_B2, "#cfcfcf"), (S3_KF, "#7a7a7a"), (S3_B1, "#151515")], S3_ARROWS, S3_RULES,
                         S3_LABELS, S3_LEG_RECTS, S3_LEG_TEXT))
# row 4
panels.append(tw_panel(TW4, (180, 394), (0.0, 0.5), frange(180, 20, 11, 1), frange(0.0, 0.05, 11, 3), ".1f",
                       P4_ELL, [], P4_DOTS, P4_CONC_AGE, cx_of(P4_CONC_AGE, AGES_1MA, U238_1MA),
                       P4_CONC_LAB, 14, 14, P4_TEXT, 12))
panels.append(box_panel(BX4, (30, 16), list(range(30, 15, -1)), [30, 28, 26, 24, 22, 20, 18, 16], "d",
                        B4_OLD, B4_YOUNG, B4_KIND, B4_BAND, B4_MEAN, [28, 26, 24, 22, 20, 18]))
panels.append(iso_panel(ISO))
# row 5
panels.append(tw_panel(TW5, (270, 430), (0.04, 0.14), frange(270, 10, 17, 1), frange(0.04, 0.01, 11, 3), ".2f",
                       P5_ELL, [], P5_DOTS, P5_CONC_AGE, cx_of(P5_CONC_AGE, AGES_1MA, U238_1MA),
                       P5_CONC_LAB, 12, 13, P5_TEXT, 12))
panels.append(box_panel(BX5, (22.5, 15), [22, 21, 20, 19, 18, 17, 16, 15], [22, 21, 20, 19, 18, 17, 16, 15], "d",
                        B5_OLD, B5_YOUNG, B5_KIND, B5_BAND, B5_MEAN, [22, 21, 20, 19, 18, 17, 16],
                        label_size=14.5))
panels.append(tw_panel(TW6, (275, 325), (0.040, 0.068), frange(275, 5, 11, 1), frange(0.040, 0.002, 15, 4), ".3f",
                       P6_ELL, [], P6_DOTS, AGES_ROS, U238_ROS, P6_CONC_LAB, 12, 13, P6_TEXT, 13))
panels.append(box_panel(BX6, (23.0, 20.0), frange(22.8, -0.4, 8, 1), [22.8, 22.0, 21.2, 20.0], ".1f",
                        B6_OLD, B6_YOUNG, B6_KIND, B6_BAND, B6_MEAN, [22.8, 22.4, 22.0, 21.6, 21.2, 20.8, 20.4]))

chart = (alt.layer(*panels)
         .resolve_scale(x="independent", y="independent")
         .properties(width=W, height=H, autosize="none", padding=0)
         .configure_view(strokeWidth=0)
         .configure_axis(labelFont=FONT, titleFont=FONT, labelFontSize=16, labelColor="black", titleColor="black",
                         tickColor="black", tickWidth=1, domain=False, grid=False, titleFontWeight="normal")
         .configure_text(font=FONT))

chart.save("out.html", embed_options={"renderer": "svg", "actions": False})
